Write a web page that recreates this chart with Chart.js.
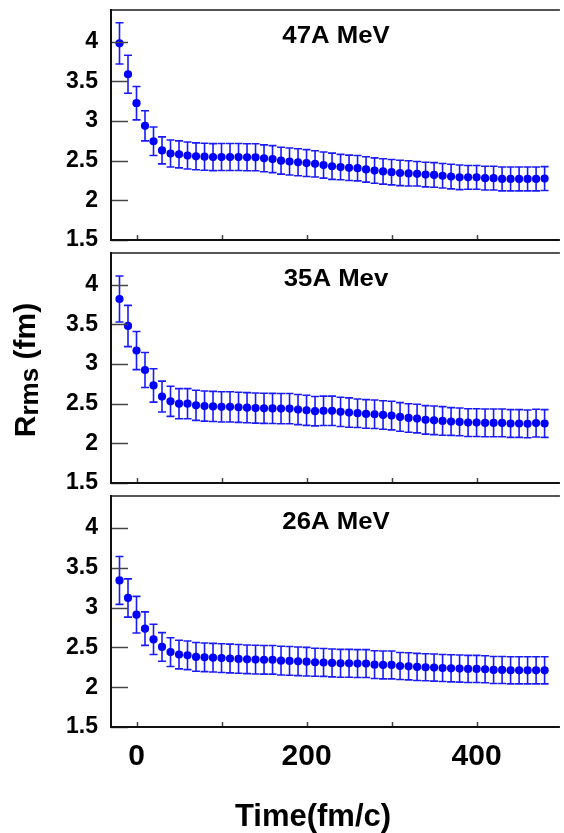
<!DOCTYPE html>
<html>
<head>
<meta charset="utf-8">
<script src="https://cdn.jsdelivr.net/npm/chart.js@4.4.1/dist/chart.umd.min.js"></script>
<style>
  body { margin: 0; width: 564px; height: 833px; background: #fff; position: relative; overflow: hidden; }
  canvas { position: absolute; left: 0; }
</style>
</head>
<body>
<canvas id="c47" width="564" height="250" style="top:0px"></canvas>
<canvas id="c35" width="564" height="250" style="top:243px"></canvas>
<canvas id="c26" width="564" height="347" style="top:486px"></canvas>
<script>
// data (time in fm/c, R_rms in fm)
const times = [-20,-10,0,10,20,30,40,50,60,70,80,90,100,110,120,130,140,150,160,170,
  180,190,200,210,220,230,240,250,260,270,280,290,300,310,320,330,340,350,360,370,
  380,390,400,410,420,430,440,450,460,470,480];

const r47 = [3.98,3.59,3.225,2.94,2.745,2.63,2.59,2.58,2.565,2.555,
  2.55,2.545,2.546,2.546,2.546,2.543,2.543,2.53,2.52,2.50,
  2.49,2.48,2.47,2.46,2.445,2.43,2.42,2.41,2.405,2.39,
  2.375,2.365,2.355,2.345,2.34,2.335,2.325,2.32,2.31,2.30,
  2.29,2.29,2.29,2.28,2.28,2.27,2.27,2.27,2.27,2.27,
  2.275];
const e47 = [0.26,0.24,0.21,0.19,0.18,0.17,0.17,0.17,0.17,0.17,
  0.17,0.17,0.17,0.17,0.17,0.17,0.17,0.17,0.17,0.17,
  0.17,0.17,0.17,0.165,0.165,0.165,0.16,0.16,0.16,0.16,
  0.16,0.16,0.16,0.16,0.16,0.155,0.155,0.155,0.155,0.155,
  0.155,0.15,0.15,0.15,0.15,0.15,0.15,0.15,0.15,0.15,
  0.15];

const r35 = [3.82,3.48,3.17,2.925,2.73,2.59,2.53,2.50,2.50,2.48,
  2.47,2.465,2.46,2.46,2.455,2.45,2.445,2.442,2.44,2.438,
  2.438,2.426,2.417,2.405,2.41,2.41,2.397,2.388,2.38,2.371,
  2.367,2.358,2.35,2.333,2.32,2.312,2.296,2.29,2.283,2.275,
  2.27,2.262,2.262,2.258,2.258,2.258,2.25,2.25,2.246,2.255,
  2.25];
const e35 = [0.29,0.26,0.24,0.22,0.21,0.195,0.19,0.19,0.19,0.19,
  0.19,0.19,0.19,0.19,0.19,0.19,0.19,0.19,0.19,0.19,
  0.19,0.19,0.19,0.185,0.185,0.185,0.185,0.185,0.18,0.18,
  0.18,0.18,0.18,0.18,0.18,0.18,0.18,0.18,0.18,0.175,
  0.175,0.175,0.175,0.175,0.175,0.175,0.175,0.175,0.175,0.175,
  0.175];

const r26 = [3.34,3.12,2.91,2.735,2.60,2.505,2.44,2.41,2.40,2.38,
  2.375,2.37,2.365,2.36,2.355,2.35,2.346,2.344,2.344,2.333,
  2.33,2.325,2.32,2.313,2.31,2.304,2.30,2.30,2.296,2.296,
  2.283,2.279,2.279,2.266,2.262,2.254,2.25,2.246,2.241,2.237,
  2.233,2.229,2.229,2.225,2.216,2.216,2.212,2.212,2.212,2.212,
  2.212];
const e26 = [0.30,0.24,0.23,0.21,0.19,0.18,0.18,0.18,0.18,0.18,
  0.18,0.18,0.18,0.18,0.18,0.18,0.18,0.18,0.18,0.18,
  0.18,0.18,0.18,0.175,0.175,0.175,0.175,0.175,0.175,0.175,
  0.175,0.175,0.175,0.17,0.17,0.17,0.17,0.17,0.17,0.17,
  0.17,0.17,0.17,0.17,0.17,0.17,0.17,0.17,0.17,0.17,
  0.17];

const panelTitles = ['47A MeV', '35A Mev', '26A MeV'];
const yTicks = [1.5, 2, 2.5, 3, 3.5, 4];
const xTicks = [0, 100, 200, 300, 400];
const xLabels = [0, 200, 400];
const xTitle = 'Time(fm/c)';

const FONT = '"Liberation Sans", Arial, Helvetica, sans-serif';
Chart.defaults.font.family = FONT;

// error bars, frame, inward ticks, panel label and axis titles
const panelDeco = {
  id: 'panelDeco',
  beforeDatasetsDraw(chart) {
    const ctx = chart.ctx;
    const y = chart.scales.y;
    const ds = chart.data.datasets[0];
    const meta = chart.getDatasetMeta(0);
    ctx.save();
    ctx.strokeStyle = 'rgba(0,0,255,0.9)';
    ctx.lineWidth = 1.6;
    meta.data.forEach((pt, i) => {
      const v = ds.data[i].y;
      const top = y.getPixelForValue(v + ds.errors[i]);
      const bot = y.getPixelForValue(v - ds.errors[i]);
      ctx.beginPath();
      ctx.moveTo(pt.x, top); ctx.lineTo(pt.x, bot);
      ctx.moveTo(pt.x - 4, top); ctx.lineTo(pt.x + 4, top);
      ctx.moveTo(pt.x - 4, bot); ctx.lineTo(pt.x + 4, bot);
      ctx.stroke();
    });
    ctx.restore();
  },
  afterDraw(chart, args, opts) {
    const ctx = chart.ctx;
    const a = chart.chartArea;
    const x = chart.scales.x, y = chart.scales.y;
    ctx.save();
    // inward ticks
    ctx.strokeStyle = '#444';
    ctx.lineWidth = 1.5;
    yTicks.forEach(v => {
      const py = Math.round(y.getPixelForValue(v)) + 0.5;
      ctx.beginPath(); ctx.moveTo(a.left, py); ctx.lineTo(a.left + 17, py); ctx.stroke();
    });
    xTicks.forEach(v => {
      const px = Math.round(x.getPixelForValue(v)) + 0.5;
      ctx.beginPath(); ctx.moveTo(px, a.bottom); ctx.lineTo(px, a.bottom - 5); ctx.stroke();
    });
    // frame (right side is cut off in the original)
    ctx.lineWidth = 2;
    ctx.strokeStyle = '#555';
    ctx.beginPath(); ctx.moveTo(a.left, a.top); ctx.lineTo(a.right, a.top); ctx.stroke();
    ctx.strokeStyle = '#111';
    ctx.beginPath(); ctx.moveTo(a.left, a.top - 1); ctx.lineTo(a.left, a.bottom);
    ctx.lineTo(a.right, a.bottom); ctx.stroke();

    // panel label
    ctx.fillStyle = '#000';
    ctx.font = 'bold 23px ' + FONT;
    ctx.textAlign = 'center';
    ctx.textBaseline = 'middle';
    ctx.save();
    ctx.translate(336, a.top + 26.5);
    ctx.scale(1.12, 1);
    ctx.fillText(opts.label, 0, 0);
    ctx.restore();

    if (opts.yTitle) {
      ctx.save();
      ctx.translate(35, 370 - 243);
      ctx.rotate(-Math.PI / 2);
      ctx.textAlign = 'left';
      ctx.textBaseline = 'alphabetic';
      const big = 'bold 30px ' + FONT, small = 'bold 26px ' + FONT;
      ctx.font = big; const wR = ctx.measureText('R').width; const wRest = ctx.measureText(' (fm)').width;
      ctx.font = small; const wS = ctx.measureText('rms').width;
      let sx = -(wR + wS + wRest) / 2;
      ctx.font = big; ctx.fillText('R', sx, 0);
      ctx.font = small; ctx.fillText('rms', sx + wR, 3);
      ctx.font = big; ctx.fillText(' (fm)', sx + wR + wS, 0);
      ctx.restore();
    }
    if (opts.xTitle) {
      ctx.font = 'bold 31px ' + FONT;
      ctx.textAlign = 'center';
      ctx.textBaseline = 'middle';
      ctx.fillText(xTitle, 313, 817 - 486);
    }
    ctx.restore();
  }
};

function makePanel(id, label, values, errors, isBottom, withYTitle) {
  const pts = times.map((t, i) => ({ x: t, y: values[i] }));
  return new Chart(document.getElementById(id), {
    type: 'scatter',
    data: {
      datasets: [{
        data: pts,
        errors: errors,
        backgroundColor: '#0000ff',
        borderWidth: 0,
        pointRadius: 4.1,
        pointHoverRadius: 4.1
      }]
    },
    options: {
      responsive: false,
      animation: false,
      devicePixelRatio: 1,
      layout: { padding: { top: 10, bottom: isBottom ? 0 : 10, left: 0, right: 0 } },
      plugins: {
        legend: { display: false },
        tooltip: { enabled: false },
        panelDeco: { label: label, yTitle: withYTitle, xTitle: isBottom }
      },
      scales: {
        x: {
          type: 'linear',
          min: -30,
          max: 498,
          afterBuildTicks: s => { s.ticks = xTicks.map(v => ({ value: v })); },
          afterFit: s => { s.height = isBottom ? 106 : 0; s.paddingLeft = 0; s.paddingRight = 0; },
          grid: { display: false, drawTicks: false },
          border: { display: false },
          ticks: {
            display: isBottom,
            padding: 12,
            maxRotation: 0,
            autoSkip: false,
            color: '#000',
            font: { size: 30, weight: 'bold' },
            callback: v => xLabels.includes(v) ? String(v) : ''
          }
        },
        y: {
          min: 1.5,
          max: 4.4,
          afterBuildTicks: s => { s.ticks = yTicks.map(v => ({ value: v })); },
          afterFit: s => { s.width = 111; s.paddingTop = 0; s.paddingBottom = 0; },
          grid: { display: false, drawTicks: false },
          border: { display: false },
          ticks: {
            padding: 13,
            color: '#000',
            font: { size: 23, weight: 'bold' },
            callback: v => String(v)
          }
        }
      }
    },
    plugins: [panelDeco]
  });
}

makePanel('c47', panelTitles[0], r47, e47, false, false);
makePanel('c35', panelTitles[1], r35, e35, false, true);
makePanel('c26', panelTitles[2], r26, e26, true, false);
</script>
</body>
</html>
